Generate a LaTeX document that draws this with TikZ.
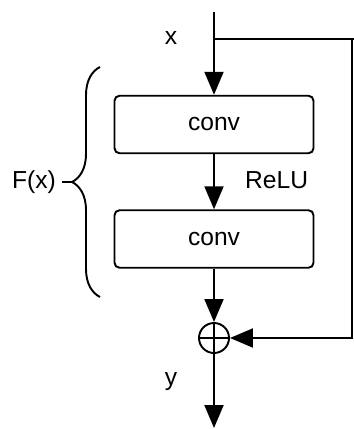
\documentclass[tikz,border=0pt]{standalone}
\usepackage{fontspec}
\setmainfont{Liberation Sans}
\usetikzlibrary{arrows.meta,decorations.pathreplacing}
\begin{document}
\begin{tikzpicture}[
      every node/.style={font=\fontsize{14}{16}\selectfont},
      line/.style={line width=1.1pt},
      arr/.style={line width=1.1pt, -{Triangle[length=4.6mm, width=3.8mm]}},
      block/.style={draw, line width=1.1pt, rounded corners=1mm,
                    minimum width=3.98cm, minimum height=1.15cm, inner sep=0pt},
      plus/.style={draw, circle, line width=1.1pt, minimum size=6mm, inner sep=0pt,
                   path picture={\draw[line width=1.1pt]
                     (path picture bounding box.north) -- (path picture bounding box.south)
                     (path picture bounding box.west) -- (path picture bounding box.east);}},
    ]
    \useasboundingbox (0,0) rectangle (7.08,-8.58);

    % --- main path ---
    \coordinate (top) at (4.28,-0.24);
    \coordinate (split) at (4.28,-0.78);
    \node[anchor=center] (xlab) at (3.42,-0.76) {x};
    \node[block] (conva) at (4.28,-2.49) {conv};
    \node[anchor=west] (relu) at (4.78,-3.6) {ReLU};
    \node[block] (convb) at (4.28,-4.78) {conv};
    \node[plus] (sum) at (4.28,-6.76) {};
    \node (ylab) at (3.42,-7.64) {y};
    \coordinate (out) at (4.28,-8.56);

    \draw[line] (top) -- (split);
    \draw[arr] (split) -- (conva.north);
    \draw[arr] (conva.south) -- (convb.north);
    \draw[arr] (convb.south) -- (sum.north);
    \draw[arr] (sum.south) -- (out);

    % --- shortcut ---
    \coordinate (rt) at (7.04,-0.78);
    \draw[line] (split) -- (7.08,-0.78);
    \draw[arr] (rt) |- (sum.east);

    % --- brace F(x) ---
    \draw[line, decorate, decoration={brace, amplitude=0.56cm}]
      (2.0,-5.94) -- (2.0,-1.34);
    \coordinate (tip) at (1.44,-3.64);
    \node (fx) at (0.68,-3.64) {F(x)};
    \draw[line] (fx.east) -- (tip);
  \end{tikzpicture}
\end{document}
